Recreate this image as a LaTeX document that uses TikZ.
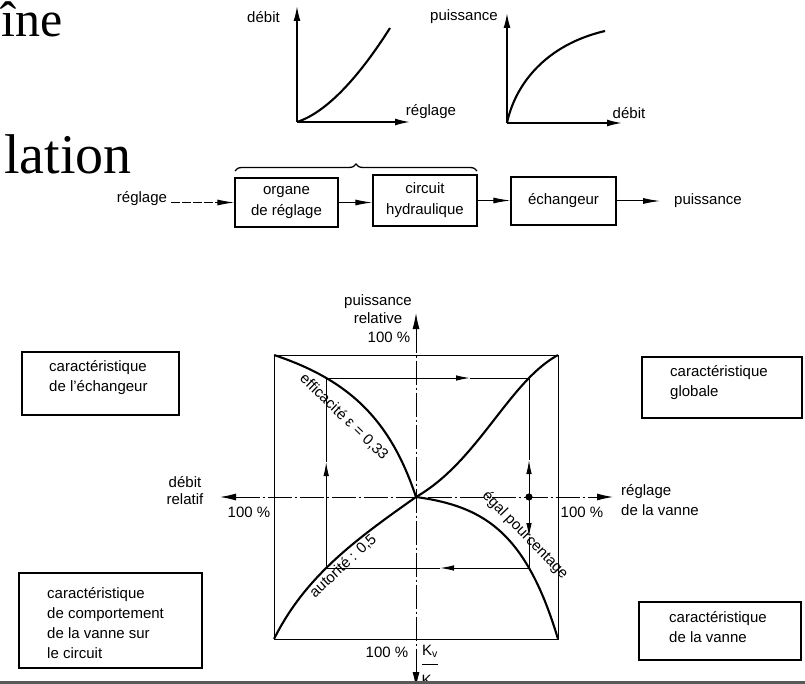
\documentclass[tikz,border=0pt]{standalone}
\usepackage{fontspec}
\setmainfont{Liberation Sans}
\newfontfamily\slidefont{Liberation Serif}
\usetikzlibrary{arrows.meta,decorations.pathreplacing}
\begin{document}
\begin{tikzpicture}[x=1pt,y=-1pt,
  lbl/.style={font=\fontsize{15}{18}\selectfont, inner sep=0pt, align=center},
  blk/.style={draw, line width=1.4pt, font=\fontsize{15}{21}\selectfont, align=center, inner sep=0pt},
  cframe/.style={draw, line width=1.2pt, inner sep=0pt},
  ftext/.style={font=\fontsize{15}{20}\selectfont, inner sep=0pt, align=left, anchor=west},
  fine/.style={line width=1pt},
  curve/.style={line width=2.1pt},
  gax/.style={line width=1.7pt},
  gcurve/.style={line width=2.1pt},
  axisline/.style={line width=1pt, dash pattern=on 24pt off 3pt on 2pt off 3pt},
  atips/.style={{Latex[length=16pt,width=7pt]}-{Latex[length=16pt,width=7pt]}},
  btip/.style={-{Latex[length=17pt,width=6pt]}},
  gtip/.style={-{Latex[length=15pt,width=7pt]}},
  mtip/.style={-{Latex[length=14pt,width=5.5pt]}},
  declare function={kv(\h)=(exp(3.2*\h)-1)/(exp(3.2)-1); qa(\k)=\k/sqrt(0.5*\k*\k+0.5); pe(\q)=\q/(\q+0.332*(1-\q));}
]
\useasboundingbox (0,0) rectangle (805,684);
\fill[white] (0,0) rectangle (805,684);

% slide text fragments
\node[inner sep=0pt, anchor=base west, font=\slidefont\fontsize{50}{50}\selectfont] (s1) at (1,37) {îne};
\node[inner sep=0pt, anchor=base west, font=\slidefont\fontsize{56}{56}\selectfont] (s2) at (4,174) {lation};

% small graph 1
\coordinate (O1) at (297,122);
\coordinate (Y1) at (297,6);
\coordinate (X1) at (410,122);
\draw[gax, gtip] (O1) -- (Y1);
\draw[gax, gtip] (O1) -- (X1);
\draw[gcurve] (O1) .. controls (327.7,112) and (360.2,75) .. (390,28);
\node[lbl] (g1y) at (263.5,17) {débit};
\node[lbl] (g1x) at (431,112) {réglage};

% small graph 2
\coordinate (O2) at (507,123);
\coordinate (Y2) at (507,13);
\coordinate (X2) at (622,123);
\draw[gax, gtip] (O2) -- (Y2);
\draw[gax, gtip] (O2) -- (X2);
\draw[gcurve] (O2) .. controls (515,85) and (545,45) .. (605,31);
\node[lbl] (g2y) at (464,17) {puissance};
\node[lbl] (g2x) at (629,113) {débit};

% block diagram
\node[lbl] (reg) at (142,199) {réglage};
\node[blk, minimum width=103pt, minimum height=49pt] (org) at (286.5,202.5) {organe\\de réglage};
\node[blk, minimum width=104pt, minimum height=51pt] (circ) at (425,200.5) {circuit\\hydraulique};
\node[blk, minimum width=105pt, minimum height=48pt] (ech) at (563.5,201) {échangeur};
\node[lbl] (pui) at (708,201) {puissance};
\draw[btip, line width=0.9pt, dash pattern=on 9pt off 2pt, shorten <=4pt] (reg.east |- org.west) -- (org.west);
\draw[btip, line width=1pt] (org.east) -- (org.east -| circ.west);
\draw[btip, line width=1pt] (circ.east) -- (circ.east -| ech.west);
\draw[btip, line width=1pt, shorten >=14pt] (ech.east) -- (ech.east -| pui.west);
\coordinate (brL) at (235,171);
\coordinate (brR) at (477,171);
\draw[decorate, decoration={brace, amplitude=7pt}, line width=1.3pt] (brL) -- (brR);

% big diagram
\coordinate (C) at (416,497);
\draw[fine] (274,355) rectangle (558,639);
\coordinate (AL) at (220,497);
\coordinate (AR) at (613,497);
\coordinate (AT) at (416,313);
\coordinate (AB) at (416,688);
\draw[axisline, atips] (AL) -- (AR);
\draw[axisline, atips] (AT) -- (AB);

\draw[curve] plot[domain=0:1, samples=60, smooth, variable=\t] ({416-142*\t},{497-142*pe(\t)});
\draw[curve] plot[domain=0:1, samples=60, smooth, variable=\t] ({416-142*qa(\t)},{497+142*\t});
\draw[curve] plot[domain=0:1, samples=60, smooth, variable=\t] ({416+142*\t},{497+142*kv(\t)});
\draw[curve] plot[domain=0:1, samples=60, smooth, variable=\t] ({416+142*\t},{497-142*pe(qa(kv(\t)))});

\coordinate (P1) at (326.2,378);
\coordinate (P2) at (529,378);
\coordinate (P3) at (529,568);
\coordinate (P4) at (326.2,568);
\coordinate (D) at (529,497);
\coordinate (m1) at (326.2,462);
\coordinate (m2) at (470,378);
\coordinate (m3) at (529,460);
\coordinate (m4) at (529,537);
\coordinate (m5) at (440,568);
\draw[fine, mtip] (P4) -- (m1); \draw[fine] (m1) -- (P1);
\draw[fine, mtip] (P1) -- (m2); \draw[fine] (m2) -- (P2);
\draw[fine, mtip] (D) -- (m3); \draw[fine] (m3) -- (P2);
\draw[fine, mtip] (D) -- (m4); \draw[fine] (m4) -- (P3);
\draw[fine, mtip] (P3) -- (m5); \draw[fine] (m5) -- (P4);
\fill (D) circle[radius=3.6pt];

% curve labels
\node[lbl, rotate=-44] (eff) at (344,417) {efficacité ε = 0,33};
\node[lbl, rotate=43] (aut) at (343,566) {autorité : 0,5};
\node[lbl, rotate=-46] (ega) at (525,535) {égal pourcentage};

% axis labels
\node[lbl] (pr) at (378,309) {puissance\\relative};
\node[lbl] (p100) at (389,337) {100 \%};
\node[lbl, font=\fontsize{15}{17}\selectfont] (dr) at (185,491) {débit\\relatif};
\node[lbl] (l100) at (249,512) {100 \%};
\node[lbl] (r100) at (582,512) {100 \%};
\node[lbl, align=left, anchor=west, font=\fontsize{15}{20}\selectfont] (rv) at (621,500) {réglage\\de la vanne};
\node[lbl] (b100) at (387,652) {100 \%};
\node[lbl] (kvn) at (430,651) {K\textsubscript{v}};
\node[lbl] (kvs) at (432,681) {K\textsubscript{vs}};
\coordinate (fb1) at (422,664);
\coordinate (fb2) at (438,664);
\draw[fine] (fb1) -- (fb2);

% boxes
\node[cframe, minimum width=157pt, minimum height=63pt] (f1) at (100.5,383.5) {};
\node[ftext] (t1) at (49,378) {caractéristique\\de l’échangeur};
\node[cframe, minimum width=160pt, minimum height=61pt] (f2) at (722,387.5) {};
\node[ftext] (t2) at (670,383) {caractéristique\\globale};
\node[cframe, minimum width=183pt, minimum height=95pt] (f3) at (110.5,620.5) {};
\node[ftext] (t3) at (47,623) {caractéristique\\de comportement\\de la vanne sur\\le circuit};
\node[cframe, minimum width=162pt, minimum height=58pt] (f4) at (720,631) {};
\node[ftext] (t4) at (669,627) {caractéristique\\de la vanne};

% bottom rule
\fill[black!65] (0,681) rectangle (805,684);
\end{tikzpicture}
\end{document}
